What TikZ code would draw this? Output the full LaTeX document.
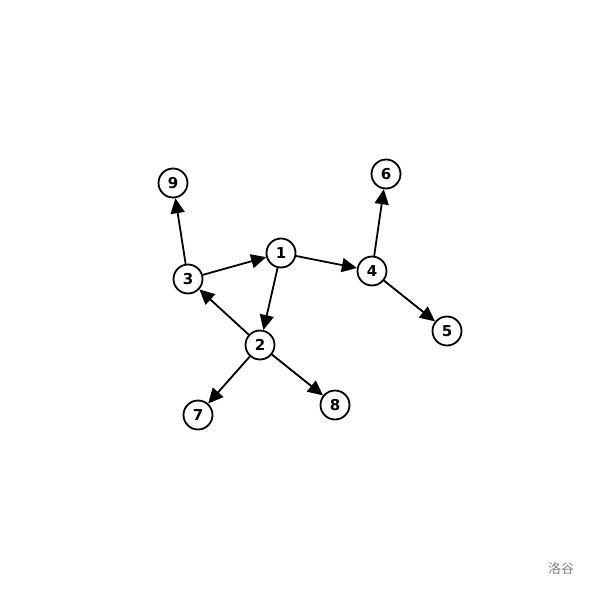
\documentclass[tikz,border=0pt]{standalone}
\usepackage{fontspec}
\setsansfont{DejaVu Sans}
\newfontfamily\cjk{Noto Sans CJK SC}
\usetikzlibrary{arrows.meta}

\begin{document}
\begin{tikzpicture}[x=1pt,y=-1pt,>={Triangle[length=15pt,width=14pt]},
vert/.style={circle,draw,line width=1.8pt,minimum size=29pt,inner sep=0pt,
  font=\sffamily\bfseries\fontsize{15}{15}\selectfont}]
\useasboundingbox (0,0) rectangle (589,589);
\node[vert](v1) at (281,253) {1};
\node[vert](v2) at (260,345) {2};
\node[vert](v3) at (188,279) {3};
\node[vert](v4) at (372,271) {4};
\node[vert](v5) at (447,331) {5};
\node[vert](v6) at (386,174) {6};
\node[vert](v7) at (198,415) {7};
\node[vert](v8) at (335,405) {8};
\node[vert](v9) at (173,183) {9};
\node[text=gray,font=\cjk\fontsize{13}{13}\selectfont](wm) at (561,569) {洛谷};
\path[->,line width=1.8pt](v3) edge (v1);
\path[->,line width=1.8pt](v1) edge (v4);
\path[->,line width=1.8pt](v1) edge (v2);
\path[->,line width=1.8pt](v2) edge (v3);
\path[->,line width=1.8pt](v3) edge (v9);
\path[->,line width=1.8pt](v4) edge (v6);
\path[->,line width=1.8pt](v4) edge (v5);
\path[->,line width=1.8pt](v2) edge (v7);
\path[->,line width=1.8pt](v2) edge (v8);
\end{tikzpicture}
\end{document}
